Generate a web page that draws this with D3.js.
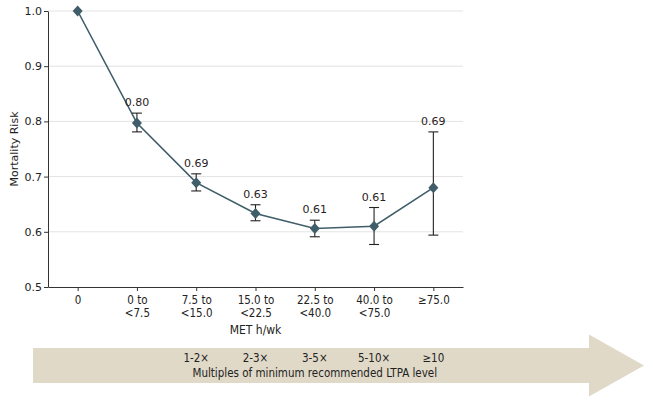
<!DOCTYPE html>
<html>
<head>
<meta charset="utf-8">
<script src="https://cdn.jsdelivr.net/npm/d3@7"></script>
<style>
  body { margin: 0; background: #fff; }
  svg { display: block; }
</style>
</head>
<body>
<div id="chart-area"></div>
<script>
// ---- data ----
let categories = ["0", "0 to\n<7.5", "7.5 to\n<15.0", "15.0 to\n<22.5", "22.5 to\n<40.0", "40.0 to\n<75.0", "\u226575.0"];
let risk = [1.0, 0.797, 0.689, 0.633, 0.606, 0.610, 0.680];
let ci_low = [null, 0.781, 0.674, 0.620, 0.591, 0.577, 0.594];
let ci_high = [null, 0.815, 0.705, 0.649, 0.621, 0.644, 0.781];
let value_labels = [null, "0.80", "0.69", "0.63", "0.61", "0.61", "0.69"];
let y_ticks = [0.5, 0.6, 0.7, 0.8, 0.9, 1.0];
let multiples = [null, null, "1-2\u00d7", "2-3\u00d7", "3-5\u00d7", "5-10\u00d7", "\u226510"];

let d3 = window.d3;
let W = 653, H = 403;
let margin = { left: 48, right: 190, top: 11, bottom: 116 };
let width = W - margin.left - margin.right;
let height = H - margin.top - margin.bottom;

let narrow = "'Liberation Sans Narrow', 'DejaVu Sans Condensed', 'Roboto Condensed', sans-serif";
let plain = "'DejaVu Sans', Verdana, sans-serif";
let line_color = "#3f5e6a";

let svg = d3.select("#chart-area").append("svg")
  .attr("width", W)
  .attr("height", H);

let group = svg.append("g")
  .attr("transform", `translate(${margin.left}, ${margin.top})`);

let x = d3.scalePoint()
  .domain(categories)
  .range([0, width])
  .padding(0.5);

let y = d3.scaleLinear()
  .domain([0.5, 1.0])
  .range([height, 0]);

// gridlines
group.selectAll(".grid")
  .data(y_ticks.slice(1))
  .enter().append("line")
    .attr("x1", 0).attr("x2", width)
    .attr("y1", d => y(d)).attr("y2", d => y(d))
    .attr("stroke", "#e3e3e3")
    .attr("stroke-width", 1);

// Y axis
let y_axis = group.append("g")
  .call(d3.axisLeft(y).tickValues(y_ticks).tickFormat(d3.format(".1f")).tickSize(4).tickSizeOuter(0));
y_axis.select(".domain").attr("stroke", "#333");
y_axis.selectAll(".tick line").attr("stroke", "#333");
y_axis.selectAll("text")
  .attr("font-family", plain)
  .attr("font-size", "11px")
  .attr("fill", "#222")
  .attr("x", -6);

// X axis
let x_axis = group.append("g")
  .attr("transform", `translate(0, ${height})`)
  .call(d3.axisBottom(x).tickSize(4).tickSizeOuter(0).tickFormat(""));
x_axis.select(".domain").attr("stroke", "#333");
x_axis.selectAll(".tick line").attr("stroke", "#333");
x_axis.selectAll(".tick").each(function(d) {
  let lines = d.split("\n");
  let t = d3.select(this).append("text")
    .attr("fill", "#222")
    .attr("font-family", narrow)
    .attr("font-size", "11.5px")
    .attr("text-anchor", "middle");
  lines.forEach((ln, i) => {
    t.append("tspan").attr("x", 0).attr("y", 17 + i * 13).text(ln);
  });
});

// X label
group.append("text")
  .attr("x", x(categories[3]))
  .attr("y", height + 47)
  .attr("text-anchor", "middle")
  .attr("font-family", narrow)
  .attr("font-size", "12px")
  .attr("fill", "#222")
  .text("MET h/wk");

// Y label
group.append("text")
  .attr("transform", "rotate(-90)")
  .attr("x", -height / 2)
  .attr("y", -30)
  .attr("text-anchor", "middle")
  .attr("font-family", plain)
  .attr("font-size", "11px")
  .attr("fill", "#222")
  .text("Mortality Risk");

// connecting line
let line = d3.line()
  .x((d, i) => x(categories[i]))
  .y(d => y(d));
group.append("path")
  .datum(risk)
  .attr("d", line)
  .attr("fill", "none")
  .attr("stroke", line_color)
  .attr("stroke-width", 1.6);

// error bars
let idx = d3.range(categories.length).filter(i => ci_low[i] !== null);
let err = group.selectAll(".err").data(idx).enter().append("g")
  .attr("stroke", "#222")
  .attr("stroke-width", 1.1);
err.append("line")
  .attr("x1", i => x(categories[i])).attr("x2", i => x(categories[i]))
  .attr("y1", i => y(ci_low[i])).attr("y2", i => y(ci_high[i]));
err.append("line")
  .attr("x1", i => x(categories[i]) - 5).attr("x2", i => x(categories[i]) + 5)
  .attr("y1", i => y(ci_low[i])).attr("y2", i => y(ci_low[i]));
err.append("line")
  .attr("x1", i => x(categories[i]) - 5).attr("x2", i => x(categories[i]) + 5)
  .attr("y1", i => y(ci_high[i])).attr("y2", i => y(ci_high[i]));

// diamond markers
group.selectAll(".pt").data(risk).enter().append("path")
  .attr("d", "M0,-5.5L5,0L0,5.5L-5,0Z")
  .attr("transform", (d, i) => `translate(${x(categories[i])}, ${y(d)})`)
  .attr("fill", line_color);

// value labels
group.selectAll(".vlab").data(idx).enter().append("text")
  .attr("x", i => x(categories[i]))
  .attr("y", i => y(ci_high[i]) - 7)
  .attr("text-anchor", "middle")
  .attr("font-family", plain)
  .attr("font-size", "11px")
  .attr("fill", "#2a2222")
  .text(i => value_labels[i]);

// arrow band
let arrow = svg.append("g");
let bx0 = 33, bx1 = 589, tip = 644, cy = 365.5;
arrow.append("path")
  .attr("d", `M${bx0},${cy - 17.5}L${bx1},${cy - 17.5}L${bx1},${cy - 31}L${tip},${cy}L${bx1},${cy + 31}L${bx1},${cy + 17.5}L${bx0},${cy + 17.5}Z`)
  .attr("fill", "#e0d9c8");

arrow.selectAll(".mult").data(multiples.map((m, i) => [m, i]).filter(d => d[0] !== null))
  .enter().append("text")
    .attr("x", d => margin.left + x(categories[d[1]]))
    .attr("y", cy - 4)
    .attr("text-anchor", "middle")
    .attr("font-family", narrow)
    .attr("font-size", "11.5px")
    .attr("fill", "#222")
    .text(d => d[0]);

arrow.append("text")
  .attr("x", margin.left + x(categories[4]))
  .attr("y", cy + 11)
  .attr("text-anchor", "middle")
  .attr("font-family", narrow)
  .attr("font-size", "11.5px")
  .attr("fill", "#222")
  .text("Multiples of minimum recommended LTPA level");
</script>
</body>
</html>
